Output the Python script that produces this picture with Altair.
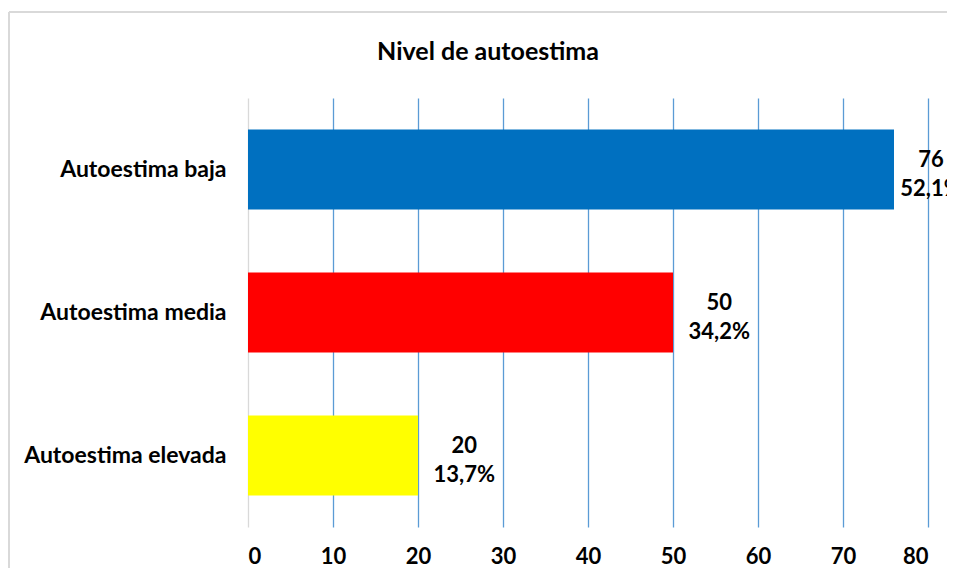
import altair as alt
import pandas as pd

categories = ["Autoestima baja", "Autoestima media", "Autoestima elevada"]
counts = [76, 50, 20]
percents = ["52,1%", "34,2%", "13,7%"]
colors = ["#0070C0", "#FF0000", "#FFFF00"]
title_text = ["Nivel de autoestima"]

df = pd.DataFrame({"cat": categories, "n": counts, "pct": percents, "color": colors})

FONT = "Lato"
FS = 22

base = alt.Chart(df)

xscale = alt.Scale(domain=[0, 80], range=[0, 680])

bars = base.mark_bar().encode(
    x=alt.X("n:Q", scale=xscale,
            axis=alt.Axis(values=list(range(0, 81, 10)), title=None, ticks=False, domain=False,
                          labelPadding=19, labelFontSize=FS, labelFontWeight="bold",
                          labelColor="#000000", labelFont=FONT,
                          gridColor=alt.expr("datum.value === 0 ? '#D9D9D9' : '#5B9BD5'"),
                          gridWidth=1.3)),
    y=alt.Y("cat:N", sort=categories,
            scale=alt.Scale(paddingInner=0.44, paddingOuter=0.22),
            axis=alt.Axis(title=None, ticks=False, domain=False, grid=False,
                          labelPadding=22, labelFontSize=23, labelFontWeight="bold",
                          labelColor="#000000", labelFont=FONT, labelLimit=400)),
    color=alt.Color("color:N", scale=None, legend=None),
)

# label sits right of the bar end, but is kept inside the chart area (as Excel does)
labels = base.transform_calculate(
    label="format(datum.n, 'd') + '\\n' + datum.pct",
    lx="min(datum.n + 5.45, 80.35)",
).mark_text(align="center", baseline="middle", dy=-10, fontSize=FS, fontWeight="bold",
            font=FONT, color="#000000", lineBreak="\n", lineHeight=29, clip=True).encode(
    x=alt.X("lx:Q", scale=xscale), y=alt.Y("cat:N", sort=categories), text="label:N"
)

one = pd.DataFrame({"t": title_text})
title = alt.Chart(one).mark_text(align="center", baseline="middle", fontSize=25,
                                 fontWeight="bold", font=FONT, color="#000000").encode(
    x=alt.value(240), y=alt.value(-46), text="t:N"
)
top_line = alt.Chart(one).mark_rule(color="#D9D9D9", strokeWidth=2).encode(
    x=alt.value(-239), x2=alt.value(699), y=alt.value(-86)
)
left_line = alt.Chart(one).mark_rule(color="#D9D9D9", strokeWidth=2).encode(
    x=alt.value(-239), y=alt.value(-86), y2=alt.value(470)
)

chart = alt.layer(top_line, left_line, title, bars, labels).properties(
    width=699, height=429,
    autosize=alt.AutoSizeParams(type="none"),
    padding={"left": 240, "top": 90, "right": 0, "bottom": 41},
).configure_view(stroke=None)

chart.save("out.html", embed_options={"renderer": "svg", "actions": False})
